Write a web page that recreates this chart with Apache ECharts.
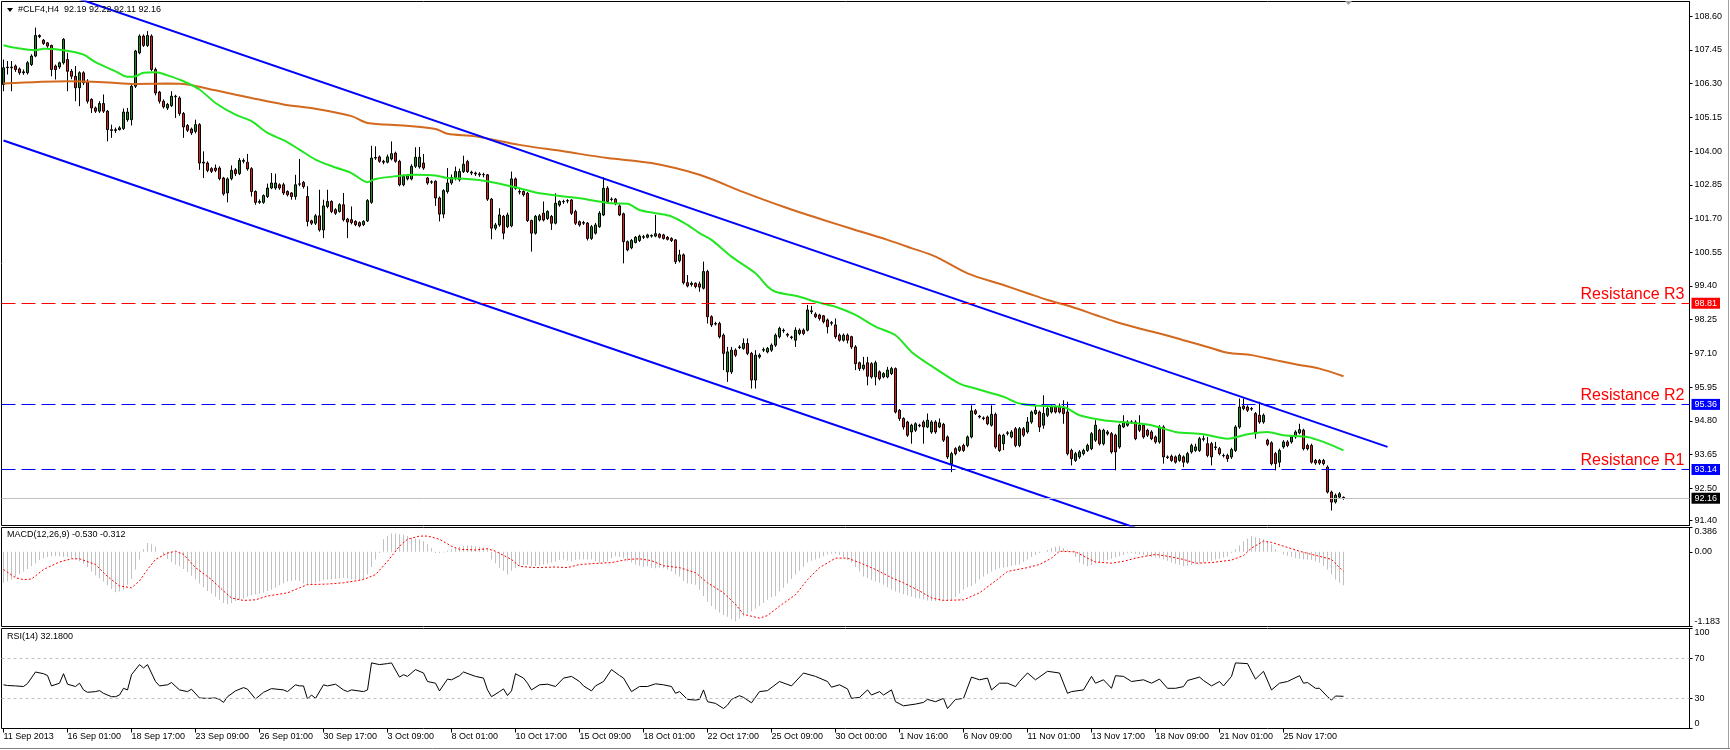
<!DOCTYPE html>
<html><head><meta charset="utf-8">
<script src="https://cdn.jsdelivr.net/npm/echarts@6/dist/echarts.min.js"></script>
<style>html,body{margin:0;padding:0;background:#fff;}#c{width:1730px;height:750px;}</style>
</head><body><div id="c"></div>
<script>
const FONT = '"Liberation Sans", Arial, sans-serif';

const xLabels = ['11 Sep 2013','16 Sep 01:00','18 Sep 17:00','23 Sep 09:00','26 Sep 01:00','30 Sep 17:00','3 Oct 09:00','8 Oct 01:00','10 Oct 17:00','15 Oct 09:00','18 Oct 01:00','22 Oct 17:00','25 Oct 09:00','30 Oct 00:00','1 Nov 16:00','6 Nov 09:00','11 Nov 01:00','13 Nov 17:00','18 Nov 09:00','21 Nov 01:00','25 Nov 17:00'];

// [open, close, low, high]
const candles = [
[106.27,106.84,106.04,107.12],[106.84,106.86,106.61,107.07],[106.86,106.84,106.04,107.07],[106.90,106.78,106.70,106.95],
[106.80,106.67,106.60,106.85],[106.67,106.70,106.60,106.78],[106.67,107.01,106.61,107.07],[106.95,107.24,106.90,107.30],
[107.24,107.94,107.20,108.21],[107.94,107.90,107.85,107.98],[107.78,107.67,107.62,107.82],[107.69,107.58,107.52,107.72],
[107.60,106.78,106.55,107.63],[106.90,106.78,106.44,106.95],[106.87,107.01,106.80,107.05],[107.01,107.81,106.95,107.85],
[107.12,106.72,106.04,107.35],[106.72,106.55,106.45,106.80],[106.55,106.16,105.70,106.90],[106.16,106.67,105.53,106.72],
[106.67,106.33,106.25,106.72],[106.38,105.70,105.62,106.45],[105.76,105.47,105.30,105.80],[105.47,105.36,105.30,105.52],
[105.36,105.62,105.30,105.70],[105.62,105.36,105.30,105.93],[105.36,104.73,104.33,105.40],[104.73,104.70,104.45,104.90],
[104.70,104.73,104.62,104.80],[104.73,104.79,104.70,104.85],[104.77,105.33,104.72,105.45],[105.07,105.33,105.00,105.47],
[105.07,106.21,104.87,106.30],[106.21,107.41,106.15,107.45],[107.35,107.92,107.30,107.98],[107.92,107.60,107.55,107.98],
[107.60,107.94,107.55,108.09],[107.92,106.78,106.72,107.98],[106.78,105.98,105.90,106.85],[106.01,105.70,105.62,106.05],
[105.70,105.51,105.45,105.76],[105.47,105.59,105.40,105.64],[105.55,105.87,105.50,106.04],[105.87,105.85,105.13,105.92],
[105.81,105.28,105.20,105.87],[105.28,104.82,104.45,105.33],[104.87,104.71,104.65,104.92],[104.75,104.62,104.55,104.80],
[104.67,104.90,104.60,105.07],[104.90,103.59,103.36,104.95],[103.62,103.59,103.08,103.99],[103.59,103.34,103.28,103.65],
[103.40,103.31,103.25,103.45],[103.42,103.34,103.28,103.54],[103.42,103.06,103.00,103.48],[103.08,102.54,102.48,103.12],
[102.57,103.05,102.25,103.10],[103.06,103.34,103.00,103.51],[103.36,103.23,103.15,103.42],[103.23,103.68,103.18,103.76],
[103.68,103.65,103.58,103.75],[103.62,103.39,103.33,103.90],[103.40,102.62,102.45,103.45],[102.62,102.25,102.17,102.66],
[102.25,102.28,102.20,102.35],[102.25,102.48,102.20,102.52],[102.45,102.74,102.40,102.89],[102.74,102.91,102.70,103.25],
[102.74,102.91,102.68,103.23],[102.85,102.74,102.68,102.90],[102.85,102.57,102.50,102.92],[102.62,102.51,102.45,102.66],
[102.57,102.45,102.34,102.60],[102.45,102.85,102.34,103.19],[102.87,102.88,102.80,103.73],[102.93,102.79,102.72,102.98],
[102.45,101.60,101.43,102.80],[101.62,101.54,101.48,101.66],[101.54,101.79,101.48,101.85],[101.79,101.31,101.25,102.68],
[101.31,102.13,101.03,102.34],[102.11,102.28,102.05,102.68],[102.28,101.94,101.88,102.32],[102.00,101.88,101.82,102.05],
[101.94,102.17,101.90,102.22],[102.17,101.66,101.60,102.57],[101.68,101.58,101.03,101.72],[101.66,101.56,101.50,102.11],
[101.60,101.49,101.44,101.64],[101.56,101.45,101.40,101.60],[101.49,101.60,101.44,101.64],[101.62,102.31,101.58,102.36],
[102.25,103.76,102.20,104.18],[103.76,103.78,103.70,104.16],[103.80,103.65,103.60,103.85],[103.65,103.62,103.55,103.70],
[103.62,103.80,103.58,103.88],[103.73,103.91,103.68,104.33],[103.93,103.65,103.60,103.98],[103.65,102.85,102.80,103.70],
[102.85,103.14,102.80,103.20],[103.05,103.16,103.00,103.22],[103.05,103.48,103.00,103.55],[103.48,103.79,103.42,104.13],
[103.46,103.79,103.40,104.14],[103.59,103.42,103.36,103.90],[103.08,102.91,102.85,103.12],[102.94,102.95,102.88,103.00],
[102.97,102.40,102.13,103.00],[102.40,101.85,101.60,102.45],[101.85,102.65,101.71,102.70],[102.62,102.91,102.55,103.42],
[102.91,103.10,102.85,103.20],[103.10,103.30,103.00,103.47],[103.02,103.30,102.96,103.40],[103.30,103.55,103.25,103.84],
[103.64,103.30,103.25,103.70],[103.28,103.25,103.18,103.33],[103.25,103.22,103.15,103.30],[103.22,103.19,103.12,103.28],
[103.19,103.20,103.10,103.26],[103.19,102.36,102.30,103.22],[102.36,101.37,100.99,102.40],[101.37,101.48,101.30,101.55],
[101.48,101.82,101.42,102.05],[101.77,101.20,100.99,101.82],[101.42,101.82,101.37,101.90],[101.45,103.05,101.40,103.30],
[103.05,102.73,102.68,103.10],[102.62,102.60,102.52,102.70],[102.62,102.51,102.45,102.66],[102.56,101.63,101.58,102.60],
[101.63,101.20,100.57,101.66],[101.20,101.77,101.15,101.82],[101.65,101.79,101.60,101.85],[101.88,101.65,101.60,102.28],
[101.70,101.94,101.65,101.98],[101.77,101.54,101.31,101.82],[101.54,102.22,101.50,102.56],[102.16,102.28,102.10,102.32],
[102.28,102.27,102.20,102.34],[102.30,102.31,102.22,102.36],[102.33,101.88,101.82,102.36],[101.94,101.54,101.48,102.00],
[101.59,101.48,101.42,101.63],[101.54,101.56,101.48,101.62],[101.54,101.02,100.95,101.58],[101.02,101.42,100.97,101.48],
[101.20,101.48,101.15,101.55],[101.42,101.88,101.38,101.95],[101.82,102.73,101.78,103.10],[102.73,102.28,102.20,102.80],
[102.36,102.35,102.28,102.42],[102.36,102.20,102.15,102.40],[102.13,101.82,101.78,102.18],[101.86,100.91,100.17,101.90],
[100.91,100.63,100.58,100.95],[100.70,100.95,100.65,101.00],[100.88,101.06,100.85,101.10],[100.95,101.10,100.90,101.15],
[101.08,101.06,101.00,101.14],[101.06,101.14,101.02,101.18],[101.12,101.10,101.05,101.16],[101.10,101.18,101.06,101.82],
[101.16,101.06,101.02,101.20],[101.14,101.02,100.98,101.18],[101.06,100.99,100.95,101.10],[101.02,100.95,100.90,101.06],
[100.97,100.23,100.15,101.00],[100.26,100.46,100.20,100.63],[100.46,99.51,99.45,100.51],[99.51,99.40,99.35,99.77],
[99.45,99.49,99.38,99.55],[99.49,99.38,99.32,99.52],[99.47,99.36,99.20,99.55],[99.32,99.89,99.28,100.23],
[99.89,98.35,98.12,99.95],[98.35,98.07,98.00,98.40],[98.10,98.12,98.05,98.18],[98.12,97.67,97.61,98.18],
[97.72,97.10,96.53,97.78],[96.47,97.15,96.13,97.32],[96.47,97.21,96.40,97.32],[97.21,97.04,96.98,97.27],
[97.30,97.32,97.25,97.38],[97.27,97.44,97.22,97.61],[97.44,97.10,97.04,97.61],[97.10,96.19,95.90,97.15],
[96.19,97.04,95.90,97.21],[96.98,97.04,96.92,97.10],[97.21,97.23,97.15,97.30],[97.15,97.27,97.10,97.32],
[97.21,97.38,97.15,97.44],[97.38,97.72,97.32,97.78],[97.67,97.95,97.61,98.01],[97.89,97.87,97.80,97.95],
[97.75,97.72,97.65,97.80],[97.66,97.64,97.58,97.70],[97.55,97.89,97.32,97.99],[97.78,97.89,97.72,97.95],
[97.89,97.78,97.72,97.95],[97.89,98.58,97.85,98.75],[98.55,98.52,98.44,98.72],[98.44,98.35,98.30,98.50],
[98.41,98.29,98.22,98.45],[98.38,98.18,98.12,98.41],[98.24,98.01,97.78,98.29],[98.15,98.13,98.05,98.20],
[98.07,97.67,97.60,98.29],[97.72,97.55,97.50,97.78],[97.55,97.72,97.50,97.78],[97.72,97.55,97.44,97.78],
[97.67,97.32,97.25,97.70],[97.32,96.75,96.53,97.38],[96.78,96.58,96.50,96.82],[96.58,96.70,96.52,96.98],
[96.78,96.32,96.01,96.98],[96.75,96.30,96.24,96.80],[96.30,96.78,96.01,96.85],[96.47,96.24,96.18,96.52],
[96.30,96.41,96.25,96.46],[96.30,96.53,96.25,96.64],[96.41,96.58,96.36,96.64],[96.58,95.10,95.05,96.62],
[95.16,94.88,94.80,95.20],[94.88,94.59,94.50,94.92],[94.76,94.31,94.25,94.80],[94.42,94.65,94.02,94.70],
[94.48,94.70,94.42,94.75],[94.65,94.63,94.58,94.70],[94.76,94.59,94.02,94.82],[94.59,94.82,94.55,95.05],
[94.42,94.76,94.36,94.82],[94.76,94.42,94.36,94.82],[94.59,94.73,94.55,94.88],[94.68,94.14,94.08,94.73],
[94.25,93.57,93.50,94.30],[93.34,93.68,93.05,93.74],[93.85,93.68,93.62,93.90],[93.79,93.91,93.74,93.96],
[93.96,93.79,93.74,94.02],[93.96,94.25,93.90,94.30],[94.25,95.14,94.20,95.33],[95.14,95.05,95.00,95.20],
[94.96,94.93,94.88,95.00],[94.90,94.88,94.82,94.95],[94.93,94.70,94.65,94.98],[94.65,95.02,94.60,95.33],
[95.02,93.91,93.85,95.08],[94.31,93.79,93.74,94.36],[94.02,94.31,93.80,94.36],[94.39,94.37,94.30,94.45],
[94.25,94.42,94.20,94.48],[94.53,93.96,93.90,94.59],[93.96,94.53,93.90,94.59],[94.53,94.31,94.25,94.59],
[94.42,94.76,94.36,94.93],[94.76,95.10,94.70,95.15],[95.05,95.16,95.00,95.33],[95.10,94.59,94.42,95.15],
[94.65,95.05,94.53,95.67],[94.99,95.22,94.93,95.27],[95.10,95.27,95.05,95.33],[95.27,95.10,95.05,95.33],
[95.30,95.10,95.05,95.39],[95.22,95.05,94.70,95.50],[95.10,93.68,93.62,95.45],[93.79,93.51,93.28,93.85],
[93.45,93.68,93.40,93.74],[93.57,93.74,93.50,93.80],[93.68,93.79,93.62,93.85],[93.79,93.96,93.74,94.02],
[93.85,94.36,93.80,94.42],[94.14,94.65,94.08,94.82],[94.48,94.02,93.96,94.53],[94.02,94.48,93.96,94.53],
[94.36,94.42,94.30,94.48],[94.36,93.74,93.68,94.42],[94.31,93.74,93.11,94.36],[93.91,94.65,93.85,94.70],
[94.59,94.73,94.55,94.99],[94.65,94.76,94.60,94.82],[94.76,94.75,94.70,94.82],[94.76,94.19,94.14,94.82],
[94.48,94.65,94.42,94.99],[94.65,94.25,94.19,94.70],[94.48,94.31,94.25,94.53],[94.42,94.19,94.14,94.48],
[94.25,94.08,94.02,94.30],[94.08,94.59,94.02,94.65],[94.59,93.57,93.34,94.65],[93.57,93.55,93.50,93.62],
[93.59,93.45,93.40,93.65],[93.57,93.39,93.34,93.62],[93.45,93.62,93.40,93.68],[93.57,93.39,93.22,93.62],
[93.39,93.68,93.34,93.74],[93.74,93.96,93.68,94.02],[93.79,93.91,93.74,94.02],[93.79,94.19,93.74,94.25],
[94.19,94.17,94.10,94.30],[94.02,93.62,93.56,94.25],[94.02,93.57,93.28,94.08],[93.91,93.89,93.80,94.08],
[93.85,93.68,93.62,93.91],[93.62,93.61,93.55,93.68],[93.62,93.51,93.40,93.68],[93.57,93.82,93.50,93.88],
[93.79,94.59,93.74,94.65],[94.59,95.27,94.53,95.56],[95.30,95.22,95.16,95.56],[95.27,95.16,95.10,95.33],
[95.22,95.20,95.14,95.27],[95.05,94.36,94.19,95.10],[94.99,94.76,94.70,95.45],[94.76,94.99,94.70,95.05],
[94.14,94.00,93.94,94.19],[94.05,93.34,93.28,94.10],[93.68,93.34,93.11,93.74],[93.39,93.79,93.22,93.85],
[93.91,94.08,93.85,94.14],[94.08,93.96,93.90,94.14],[94.08,94.25,94.02,94.30],[94.25,94.42,94.19,94.48],
[94.39,94.50,94.34,94.70],[94.48,93.85,93.79,94.53],[93.96,93.85,93.79,94.02],[93.96,93.39,93.34,94.02],
[93.45,93.36,93.30,93.50],[93.45,93.36,93.30,93.50],[93.45,93.34,93.28,93.50],[93.22,92.37,92.32,93.28],
[92.37,92.03,91.74,92.42],[92.03,92.26,91.98,92.32],[92.20,92.31,92.14,92.37],[92.19,92.16,92.11,92.22]
];

// [barIndex, value]
const maFast = [[0,107.61],[3,107.52],[8,107.44],[10,107.49],[15,107.44],[20,107.29],[23,107.03],[28,106.72],[31,106.53],[33,106.55],[35,106.67],[38,106.69],[41,106.58],[45,106.38],[49,106.10],[53,105.64],[58,105.24],[62,105.02],[66,104.62],[70,104.37],[74,104.05],[78,103.71],[83,103.44],[87,103.25],[91,102.94],[93,103.05],[98,103.14],[103,103.19],[108,103.17],[111,103.08],[116,103.05],[121,102.97],[129,102.73],[133,102.59],[140,102.45],[144,102.39],[152,102.22],[156,102.20],[159,101.99],[163,101.88],[167,101.77],[171,101.48],[174,101.20],[177,100.97],[182,100.40],[188,99.83],[191,99.38],[193,99.20],[199,99.03],[203,98.86],[208,98.69],[213,98.41],[218,98.01],[223,97.72],[227,97.15],[233,96.58],[239,96.07],[243,95.90],[250,95.62],[254,95.39],[259,95.31],[265,95.27],[269,94.99],[275,94.82],[282,94.73],[287,94.65],[293,94.42],[300,94.34],[306,94.19],[311,94.34],[316,94.42],[320,94.31],[326,94.25],[330,94.08],[335,93.79]];
const maSlow = [[0,106.30],[16,106.38],[25,106.35],[33,106.29],[41,106.30],[46,106.27],[53,106.07],[62,105.81],[70,105.59],[78,105.44],[87,105.19],[91,104.96],[100,104.87],[108,104.75],[111,104.59],[118,104.50],[129,104.21],[140,103.99],[151,103.76],[162,103.59],[174,103.19],[185,102.60],[195,102.10],[205,101.65],[212,101.35],[221,100.97],[227,100.69],[233,100.40],[241,99.83],[250,99.43],[256,99.15],[261,98.92],[267,98.69],[273,98.41],[278,98.18],[284,97.95],[289,97.78],[295,97.55],[301,97.32],[306,97.12],[312,97.04],[318,96.87],[323,96.73],[329,96.58],[335,96.32]];

const channelUpper = [[0,110.07],[346,93.91]];
const channelLower = [[0,104.36],[300,90.36]];

const resistance = [98.81, 95.36, 93.14];
const resistanceNames = ['Resistance R3','Resistance R2','Resistance R1'];
const lastPrice = 92.16;
const priceTicks = [91.40,92.50,93.65,94.80,95.95,97.10,98.25,99.40,100.55,101.70,102.85,104.00,105.15,106.30,107.45,108.60];

const macdHist = [
-0.49,-0.47,-0.44,-0.40,-0.35,-0.31,-0.27,-0.23,-0.18,-0.13,-0.10,-0.08,-0.07,-0.07,-0.07,-0.08,
-0.08,-0.10,-0.12,-0.15,-0.19,-0.24,-0.31,-0.37,-0.42,-0.47,-0.53,-0.59,-0.64,-0.63,-0.60,-0.52,
-0.43,-0.28,-0.12,0.04,0.14,0.12,0.08,0.00,-0.05,-0.11,-0.16,-0.20,-0.23,-0.27,-0.32,-0.38,
-0.44,-0.50,-0.56,-0.62,-0.66,-0.71,-0.76,-0.81,-0.83,-0.81,-0.78,-0.76,-0.74,-0.71,-0.69,-0.67,
-0.66,-0.65,-0.62,-0.60,-0.57,-0.53,-0.50,-0.47,-0.46,-0.45,-0.46,-0.50,-0.52,-0.51,-0.49,-0.47,
-0.45,-0.44,-0.44,-0.43,-0.42,-0.41,-0.42,-0.44,-0.44,-0.45,-0.44,-0.36,-0.24,-0.12,-0.02,0.20,
0.25,0.29,0.29,0.28,0.27,0.25,0.22,0.21,0.20,0.17,0.12,0.06,-0.02,-0.02,-0.01,0.02,
0.04,0.06,0.08,0.09,0.10,0.10,0.09,0.08,0.07,0.05,-0.12,-0.18,-0.25,-0.30,-0.36,-0.30,
-0.26,-0.23,-0.21,-0.20,-0.22,-0.23,-0.22,-0.20,-0.19,-0.17,-0.15,-0.13,-0.12,-0.14,-0.15,-0.13,
-0.12,-0.12,-0.12,-0.12,-0.15,-0.17,-0.16,-0.15,-0.10,-0.07,-0.08,-0.10,-0.14,-0.17,-0.20,-0.22,
-0.24,-0.23,-0.25,-0.26,-0.25,-0.26,-0.28,-0.31,-0.36,-0.39,-0.46,-0.50,-0.51,-0.52,-0.60,-0.70,
-0.79,-0.86,-0.91,-0.96,-1.00,-1.03,-1.07,-1.10,-1.06,-1.02,-0.98,-0.94,-0.90,-0.86,-0.81,-0.76,
-0.72,-0.70,-0.63,-0.57,-0.50,-0.43,-0.36,-0.30,-0.24,-0.17,-0.14,-0.12,-0.10,-0.07,-0.04,-0.03,
-0.03,-0.05,-0.09,-0.13,-0.17,-0.24,-0.31,-0.39,-0.42,-0.45,-0.47,-0.49,-0.52,-0.56,-0.60,-0.63,
-0.65,-0.67,-0.69,-0.71,-0.73,-0.74,-0.75,-0.77,-0.78,-0.78,-0.78,-0.77,-0.77,-0.77,-0.72,-0.66,
-0.60,-0.56,-0.54,-0.50,-0.44,-0.39,-0.35,-0.31,-0.28,-0.26,-0.25,-0.24,-0.22,-0.21,-0.20,-0.16,
-0.12,-0.08,-0.05,-0.02,0.00,0.03,0.06,0.08,0.09,0.06,0.03,0.01,-0.08,-0.17,-0.20,-0.23,
-0.21,-0.18,-0.16,-0.15,-0.13,-0.11,-0.09,-0.07,-0.05,-0.02,-0.02,-0.03,-0.04,-0.05,-0.07,-0.08,
-0.09,-0.10,-0.12,-0.14,-0.17,-0.19,-0.21,-0.23,-0.22,-0.21,-0.19,-0.18,-0.17,-0.15,-0.14,-0.12,
-0.11,-0.09,-0.07,-0.02,0.04,0.10,0.17,0.21,0.25,0.23,0.22,0.20,0.17,0.12,0.04,0.00,
-0.04,-0.06,-0.08,-0.10,-0.11,-0.12,-0.12,-0.13,-0.15,-0.17,-0.22,-0.28,-0.36,-0.44,-0.49,-0.53
];
const macdSignal = [[0,-0.28],[3,-0.41],[5,-0.44],[7,-0.43],[10,-0.28],[14,-0.16],[17,-0.11],[19,-0.11],[23,-0.20],[26,-0.39],[29,-0.54],[32,-0.57],[34,-0.46],[36,-0.28],[38,-0.12],[41,-0.02],[43,0.01],[45,-0.04],[48,-0.25],[52,-0.44],[55,-0.62],[57,-0.73],[60,-0.77],[63,-0.76],[66,-0.70],[71,-0.65],[74,-0.57],[76,-0.52],[81,-0.51],[85,-0.49],[90,-0.44],[93,-0.36],[96,-0.15],[99,0.09],[101,0.20],[104,0.25],[106,0.25],[109,0.20],[112,0.09],[114,0.04],[118,0.03],[121,0.05],[123,0.01],[127,-0.12],[129,-0.23],[133,-0.25],[138,-0.24],[141,-0.25],[144,-0.20],[149,-0.18],[152,-0.17],[156,-0.12],[159,-0.11],[162,-0.14],[165,-0.22],[169,-0.25],[173,-0.33],[176,-0.49],[180,-0.65],[183,-0.83],[185,-0.99],[189,-1.05],[191,-1.01],[194,-0.86],[198,-0.68],[201,-0.44],[204,-0.25],[208,-0.10],[211,-0.10],[214,-0.17],[218,-0.28],[222,-0.41],[225,-0.49],[229,-0.62],[232,-0.73],[235,-0.77],[240,-0.76],[244,-0.65],[248,-0.46],[251,-0.31],[256,-0.25],[259,-0.20],[262,-0.10],[264,0.01],[268,0.00],[271,-0.10],[273,-0.16],[277,-0.18],[280,-0.15],[283,-0.10],[288,-0.04],[291,-0.07],[295,-0.12],[298,-0.18],[302,-0.17],[307,-0.13],[310,-0.06],[312,0.06],[315,0.17],[317,0.15],[320,0.09],[324,0.01],[327,-0.04],[329,-0.07],[332,-0.12],[335,-0.31]];
const macdTicks = [-1.183, 0, 0.386];

const rsi = [[0,43.7],[1,43],[3,42.6],[5,42],[6,45],[8,56.5],[10,54.8],[11,53],[12,42.6],[14,45.3],[15,54.8],[16,44.3],[18,42],[19,45.3],[20,38.6],[21,36.2],[23,36.9],[24,37.9],[25,35.2],[27,31.8],[28,31.8],[29,33.5],[30,40.2],[31,38.6],[32,53.8],[34,63.9],[35,60.5],[36,63.9],[38,47],[39,42.6],[41,43.7],[42,46],[44,38.6],[46,36.9],[47,39.3],[49,30.5],[51,30.1],[53,30.5],[54,29.1],[55,26.1],[56,31.8],[58,37.6],[60,40.9],[61,39.3],[63,29.5],[65,36.2],[67,39.9],[70,38.6],[71,36.9],[73,43.7],[74,42.6],[75,42.6],[76,29.5],[77,33.5],[78,30.1],[80,43.7],[81,42.6],[83,44.3],[85,38.6],[86,36.9],[87,38.6],[90,36.9],[91,38.6],[92,65.6],[94,63.9],[96,64.9],[97,65.6],[99,51.4],[100,53.8],[101,52.1],[103,58.9],[105,55.5],[106,47],[108,45.3],[109,37.6],[111,49.4],[112,48.7],[114,52.8],[115,56.5],[118,52.1],[120,50.4],[121,38.6],[122,31.8],[124,36.9],[125,39.6],[126,33],[127,37.6],[128,54.8],[130,50.4],[131,45.3],[132,38.6],[134,43.7],[136,44.3],[138,42],[140,50.4],[142,52.1],[144,47],[145,42.6],[147,37.6],[148,42.6],[150,47],[152,58.9],[154,53],[155,50.4],[157,36.9],[159,42],[161,42],[163,44.7],[165,43.7],[167,42],[168,35.2],[169,36.9],[171,29.1],[173,28.4],[174,29.1],[175,38.6],[176,26.8],[178,25.1],[180,20],[181,23.4],[182,29.1],[184,32.8],[185,31.1],[187,25.7],[189,36.9],[191,37.9],[194,47],[197,42.6],[200,55.5],[203,52.1],[206,47],[207,41.3],[209,43.7],[211,39.6],[212,30.1],[214,31.1],[216,38.6],[217,33.5],[219,36.9],[220,33.5],[222,38.6],[223,26.8],[225,22.7],[228,24.4],[230,26.1],[231,29.1],[233,26.8],[235,30.1],[236,20],[238,29.1],[240,30.1],[242,51.4],[244,48.7],[246,50.4],[247,38.6],[249,45.3],[251,45.3],[253,41.9],[254,47],[256,55.5],[258,48.7],[261,57.2],[264,55.5],[266,35.2],[267,36.9],[270,38.6],[272,52.1],[273,45.3],[275,48.7],[277,40.2],[278,52.8],[280,52.1],[282,47],[285,48.7],[287,45.3],[289,49.4],[291,40.2],[293,40.2],[295,41.9],[296,48],[299,51.4],[300,48],[302,42.6],[304,47],[305,42.6],[307,52.1],[308,65.6],[311,64.9],[313,49.4],[315,57.2],[317,38.6],[319,45.3],[321,47],[324,52.8],[325,45.3],[326,46],[328,40.2],[329,40.2],[331,31.8],[332,28.4],[333,32.5],[335,32.18]];
const rsiTicks = [0, 30, 70, 100];
const rsiLevels = [30, 70];

const NCAT = 422;
const categories = [];
for (let i = 0; i < NCAT; i++) categories.push(i % 16 === 0 && i / 16 < xLabels.length ? xLabels[i / 16] : '');

function xAxisFor(gi, showLabels) {
  return {
    type: 'category', gridIndex: gi, data: categories, boundaryGap: true,
    axisLine: {show: false},
    axisTick: showLabels ? {show: true, alignWithLabel: true, length: 4, interval: (idx) => idx % 16 === 0 && idx / 16 < xLabels.length, lineStyle: {color: '#000'}} : {show: false},
    axisLabel: showLabels ? {show: true, interval: 0, align: 'left', margin: 4, fontSize: 9, color: '#000', fontFamily: FONT} : {show: false},
    splitLine: {show: false}
  };
}
function yAxisFor(gi, min, max, ticks, fmt) {
  return {
    type: 'value', gridIndex: gi, position: 'right', min: min, max: max,
    axisLine: {show: true, lineStyle: {color: '#000'}},
    axisTick: {show: true, inside: false, length: 3, customValues: ticks, lineStyle: {color: '#000'}},
    axisLabel: {show: true, customValues: ticks, formatter: fmt, fontSize: 9, color: '#000', margin: 5, fontFamily: FONT,
      verticalAlignMinLabel: gi > 0 ? 'bottom' : null, verticalAlignMaxLabel: gi > 0 ? 'top' : null},
    splitLine: {show: false}
  };
}

const boxLabel = (txt, bg) => ({show: true, position: 'end', distance: 2, formatter: txt, backgroundColor: bg, color: '#fff',
  fontSize: 9, fontFamily: FONT, padding: [1, 3, 0, 3], lineHeight: 10});
const levelLines = [];
const levelTexts = [];
resistance.forEach((v, k) => {
  const col = k === 0 ? '#ff0000' : '#0000ff';
  levelLines.push({yAxis: v, lineStyle: {color: col, type: [14, 6], width: 1}, label: boxLabel(v.toFixed(2), col)});
  levelTexts.push({yAxis: v, label: {show: true, position: 'insideEndTop', distance: [5, 1], formatter: resistanceNames[k], color: '#ff0000', fontSize: 16, fontFamily: FONT}});
});
levelLines.push({yAxis: lastPrice, lineStyle: {color: '#c0c0c0', type: 'solid', width: 1}, label: boxLabel(lastPrice.toFixed(2), '#000')});

const titleStyle = {fontSize: 9, fontWeight: 'normal', color: '#000', fontFamily: FONT};
const option = {
  animation: false,
  backgroundColor: '#fff',
  title: [
    {text: '#CLF4,H4  92.19 92.22 92.11 92.16', left: 18, top: 5, padding: 0, textStyle: titleStyle},
    {text: 'MACD(12,26,9) -0.530 -0.312', left: 7, top: 530, padding: 0, textStyle: titleStyle},
    {text: 'RSI(14) 32.1800', left: 7, top: 632, padding: 0, textStyle: titleStyle}
  ],
  grid: [
    {left: 1.5, top: 1.5, width: 1688, height: 524, show: true, borderColor: '#000', borderWidth: 1},
    {left: 1.5, top: 527.5, width: 1688, height: 99, show: true, borderColor: '#000', borderWidth: 1},
    {left: 1.5, top: 628.5, width: 1688, height: 100, show: true, borderColor: '#000', borderWidth: 1}
  ],
  xAxis: [xAxisFor(0, false), xAxisFor(1, false), xAxisFor(2, true)],
  yAxis: [
    yAxisFor(0, 91.23, 109.10, priceTicks, v => v.toFixed(2)),
    yAxisFor(1, -1.183, 0.386, macdTicks, v => Math.abs(v) < 1e-9 ? '0.00' : v.toFixed(3)),
    yAxisFor(2, 0, 100, rsiTicks, v => String(Math.round(v)))
  ],
  series: [
    {type: 'candlestick', xAxisIndex: 0, yAxisIndex: 0, data: candles, barWidth: 3, z: 2,
      itemStyle: {color: '#1f8c1f', color0: '#e41b1b', borderColor: '#000', borderColor0: '#000', borderWidth: 1},
      markLine: {symbol: ['none', 'none'], silent: true, animation: false, data: levelLines}},
    {type: 'line', xAxisIndex: 0, yAxisIndex: 0, data: maSlow, smooth: 0.3, symbol: 'none', z: 3,
      lineStyle: {color: '#d2691e', width: 2},
      markLine: {symbol: ['none', 'none'], silent: true, animation: false,
        lineStyle: {color: 'rgba(0,0,0,0)', width: 0}, data: levelTexts}},
    {type: 'line', xAxisIndex: 0, yAxisIndex: 0, data: maFast, smooth: 0.3, symbol: 'none', z: 3,
      lineStyle: {color: '#22e622', width: 2}},
    {type: 'line', xAxisIndex: 0, yAxisIndex: 0, data: channelUpper, symbol: 'none', z: 4,
      lineStyle: {color: '#0000ff', width: 2}},
    {type: 'line', xAxisIndex: 0, yAxisIndex: 0, data: channelLower, symbol: 'none', z: 4,
      lineStyle: {color: '#0000ff', width: 2}},
    {type: 'bar', xAxisIndex: 1, yAxisIndex: 1, data: macdHist, barWidth: 1, itemStyle: {color: '#c0c0c0'}},
    {type: 'line', xAxisIndex: 1, yAxisIndex: 1, data: macdSignal, symbol: 'none', z: 3,
      lineStyle: {color: '#ff0000', width: 1, type: [2, 2]}},
    {type: 'line', xAxisIndex: 2, yAxisIndex: 2, data: rsi, symbol: 'none', z: 3,
      lineStyle: {color: '#000', width: 1},
      markLine: {symbol: ['none', 'none'], silent: true, animation: false, label: {show: false},
        lineStyle: {color: '#c0c0c0', type: [3, 3], width: 1},
        data: rsiLevels.map(v => ({yAxis: v}))}}
  ],
  graphic: [
    {type: 'polygon', shape: {points: [[7, 8], [13, 8], [10, 12]]}, style: {fill: '#000'}},
    {type: 'polygon', shape: {points: [[1345, 1], [1352, 1], [1348.5, 5]]}, style: {fill: '#a0a0a0'}},
    {type: 'line', shape: {x1: 1728.5, y1: 0, x2: 1728.5, y2: 748}, style: {stroke: '#a0a0a0', lineWidth: 1}},
    {type: 'line', shape: {x1: 0, y1: 748.5, x2: 1730, y2: 748.5}, style: {stroke: '#808080', lineWidth: 1}}
  ]
};
const chart = echarts.init(document.getElementById('c'), null, {renderer: 'canvas'});
chart.setOption(option);
</script>
</body></html>
